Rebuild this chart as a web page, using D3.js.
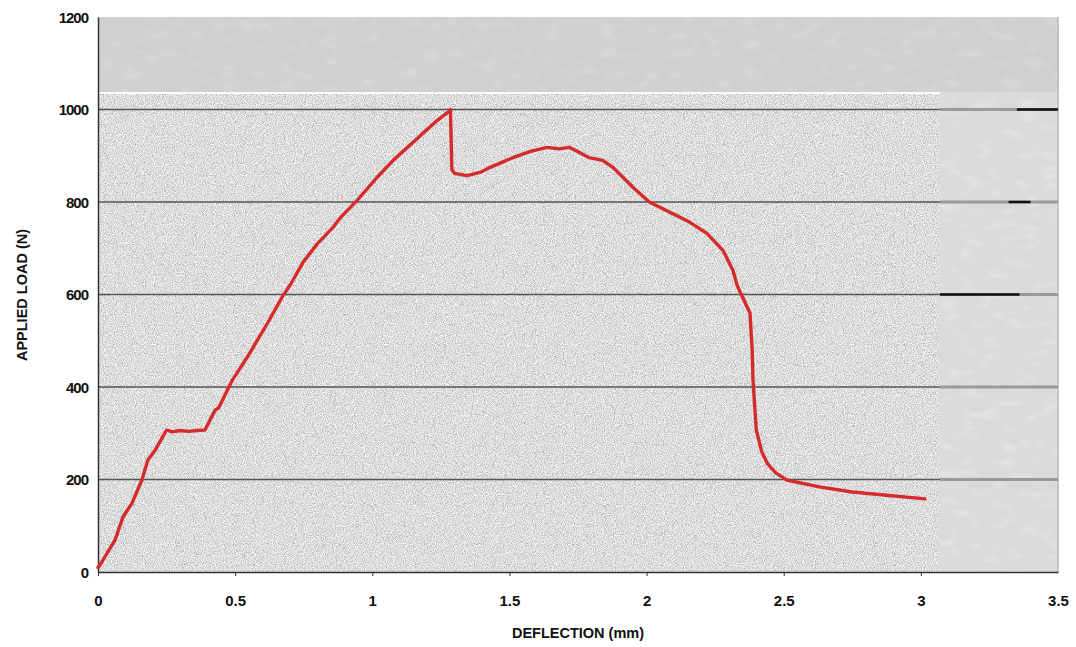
<!DOCTYPE html>
<html>
<head>
<meta charset="utf-8">
<script src="https://cdn.jsdelivr.net/npm/d3@7/dist/d3.min.js"></script>
<style>
  html, body { margin: 0; padding: 0; background: #ffffff; }
  svg { display: block; }
  text { font-family: "Liberation Sans", Arial, sans-serif; fill: #111; }
</style>
</head>
<body>
<svg id="chart" width="1076" height="647"></svg>
<script>
// ---- data ----
const deflection = [0, 0.007, 0.062, 0.091, 0.124, 0.16, 0.182, 0.21, 0.25, 0.27, 0.3, 0.33, 0.36, 0.39,
  0.427, 0.44, 0.49, 0.55, 0.62, 0.675, 0.70, 0.748, 0.80, 0.857, 0.882, 0.944, 1.017, 1.076, 1.163,
  1.236, 1.28, 1.285, 1.29, 1.30, 1.345, 1.393, 1.43, 1.513, 1.58, 1.637, 1.68, 1.72, 1.79, 1.84, 1.877,
  1.95, 2.01, 2.085, 2.158, 2.22, 2.279, 2.315, 2.33, 2.35, 2.377, 2.385, 2.388, 2.40, 2.42, 2.44, 2.47,
  2.51, 2.63, 2.75, 2.875, 3.015];
const load = [10, 15, 69, 119, 149, 199, 242, 265, 307, 303, 306, 304, 306, 307,
  350, 355, 415, 470, 540, 598, 620, 670, 710, 745, 765, 803, 853, 890, 937,
  976, 996, 1000, 870, 862, 857, 864, 875, 896, 910, 918, 915, 918, 896, 890, 875,
  832, 800, 778, 756, 732, 695, 652, 620, 594, 560, 480, 415, 307, 260, 235, 215,
  199, 184, 173, 166, 158];
const xTicks = [0, 0.5, 1, 1.5, 2, 2.5, 3, 3.5];
const yTicks = [0, 200, 400, 600, 800, 1000, 1200];
const xTitle = "DEFLECTION (mm)";
const yTitle = "APPLIED LOAD (N)";

// ---- layout ----
const svg = d3.select("#chart");
const L = 98, R = 1058, T = 17, B = 572;
const x = d3.scaleLinear().domain([0, 3.5]).range([L, R]);
const y = d3.scaleLinear().domain([0, 1200]).range([B, T]);

const defs = svg.append("defs");
const f = defs.append("filter").attr("id", "grain").attr("x", 0).attr("y", 0).attr("width", 1).attr("height", 1);
f.append("feTurbulence").attr("type", "fractalNoise").attr("baseFrequency", 1.1).attr("numOctaves", 1).attr("seed", 3).attr("result", "n");
f.append("feColorMatrix").attr("in", "n").attr("type", "matrix")
  .attr("values", "1.1 0 0 0 0.17  1.1 0 0 0 0.17  1.1 0 0 0 0.18  0 0 0 0 1");
const f2 = defs.append("filter").attr("id", "blotch").attr("x", 0).attr("y", 0).attr("width", 1).attr("height", 1);
f2.append("feTurbulence").attr("type", "fractalNoise").attr("baseFrequency", "0.05 0.1").attr("numOctaves", 2).attr("seed", 7).attr("result", "n");
f2.append("feColorMatrix").attr("in", "n").attr("type", "matrix")
  .attr("values", "0 0 0 0 1  0 0 0 0 1  0 0 0 0 1  0 0 0 2.0 -1.05");

// top strip (lighter, smooth)
svg.append("rect").attr("x", L).attr("y", T).attr("width", R - L).attr("height", 76).attr("fill", "#d0d0d0");
svg.append("rect").attr("x", L).attr("y", T).attr("width", R - L).attr("height", 76).attr("filter", "url(#blotch)").attr("opacity", 0.25);
// right strip
svg.append("rect").attr("x", 940).attr("y", 92).attr("width", R - 940).attr("height", B - 92).attr("fill", "#dadada");
svg.append("rect").attr("x", 940).attr("y", 92).attr("width", R - 940).attr("height", B - 92).attr("filter", "url(#blotch)").attr("opacity", 0.4);
// main grainy area
svg.append("rect").attr("x", L).attr("y", 94).attr("width", 940 - L).attr("height", B - 94).attr("fill", "#c0c0c0");
svg.append("rect").attr("x", L).attr("y", 94).attr("width", 940 - L).attr("height", B - 94).attr("filter", "url(#grain)");
// white separator line
svg.append("line").attr("x1", L).attr("x2", 940).attr("y1", 93).attr("y2", 93).attr("stroke", "#fafafa").attr("stroke-width", 2);
// right border (faint)
svg.append("line").attr("x1", R).attr("x2", R).attr("y1", T).attr("y2", B).attr("stroke", "#c4c4c4").attr("stroke-width", 2);

// gridlines
const gridVals = yTicks.filter(d => d > 0 && d < 1200);
svg.append("g").selectAll("line").data(gridVals).join("line")
  .attr("x1", L).attr("x2", 940).attr("y1", d => y(d)).attr("y2", d => y(d))
  .attr("stroke", "#3a3f3f").attr("stroke-width", 1.4).attr("opacity", 0.85);
svg.append("g").selectAll("line").data(gridVals).join("line")
  .attr("x1", 940).attr("x2", R).attr("y1", d => y(d)).attr("y2", d => y(d))
  .attr("stroke", "#8a8a8a").attr("stroke-width", 3).attr("opacity", 0.8);
// small dark marks in right strip
const marks = [[1000, 3.35, 3.5], [800, 3.32, 3.4], [600, 3.07, 3.36]];
svg.append("g").selectAll("line").data(marks).join("line")
  .attr("x1", d => x(d[1])).attr("x2", d => x(d[2])).attr("y1", d => y(d[0])).attr("y2", d => y(d[0]))
  .attr("stroke", "#111").attr("stroke-width", 2.5);

// axes
const xAxis = d3.axisBottom(x).tickValues(xTicks).tickFormat(d3.format("")).tickSize(4).tickSizeOuter(0);
const gx = svg.append("g").attr("transform", `translate(0,${B})`).call(xAxis);
gx.select(".domain").attr("stroke", "#333").attr("stroke-width", 1.5);
gx.selectAll(".tick line").attr("stroke", "#333");
gx.selectAll(".tick text").attr("dy", 0).attr("y", 34).attr("font-size", 15).attr("font-weight", "bold").attr("fill", "#111");
gx.selectAll(".tick").filter(d => d === 3.5).select("line").remove();

const yAxis = d3.axisLeft(y).tickValues(yTicks).tickFormat(d3.format("d")).tickSize(0).tickSizeOuter(0);
const gy = svg.append("g").attr("transform", `translate(${L},0)`).call(yAxis);
gy.select(".domain").attr("stroke", "#333").attr("stroke-width", 1.5);
gy.selectAll(".tick text").attr("x", -10).attr("dy", "0.35em").attr("font-size", 15).attr("font-weight", "bold").attr("fill", "#111").attr("letter-spacing", -1);

// titles
svg.append("text").attr("x", 578).attr("y", 638).attr("text-anchor", "middle")
  .attr("font-size", 14.5).attr("font-weight", "bold").text(xTitle);
svg.append("text").attr("transform", "translate(27,295) rotate(-90)").attr("text-anchor", "middle")
  .attr("font-size", 14.5).attr("font-weight", "bold").text(yTitle);

// curve
const line = d3.line().x(d => x(d[0])).y(d => y(d[1]));
svg.append("path").datum(deflection.map((d, i) => [d, load[i]]))
  .attr("d", line).attr("fill", "none").attr("stroke", "#d42b2b").attr("stroke-width", 3.4)
  .attr("stroke-linejoin", "round").attr("stroke-linecap", "round");
</script>
</body>
</html>
